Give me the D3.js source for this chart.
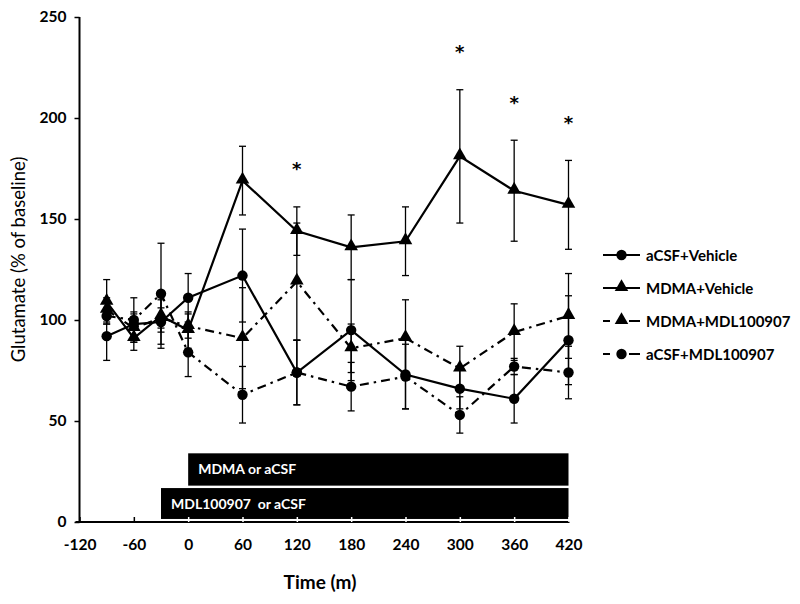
<!DOCTYPE html>
<html><head><meta charset="utf-8">
<script src="https://cdn.jsdelivr.net/npm/d3@7"></script>
<style>body{margin:0;background:#fff}svg{display:block}</style>
</head><body>
<svg id="c" width="800" height="604"></svg>
<script>
const times = [-90,-60,-30,0,60,120,180,240,300,360,420];
const acsfVeh     = [92, 98, 99, 111, 122, 74, 95, 73, 66, 61, 90];
const acsfVehErr  = [12, 6, 13, 12, 23, 16, 25, 17, 10, 12, 22];
const mdmaVeh     = [109, 91, 102, 95, 169, 144, 136, 139, 181, 164, 157];
const mdmaVehErr  = [11, 6, 8, 9, 17, 12, 16, 17, 33, 25, 22];
const mdmaMdl     = [105, 96, 101, 97, 91, 119, 86, 91, 76, 94, 102];
const mdmaMdlErr  = [6, 7, 5, 6, 25, 29, 12, 19, 11, 14, 21];
const acsfMdl     = [102, 100, 113, 84, 63, 74, 67, 72, 53, 77, 74];
const acsfMdlErr  = [4, 11, 25, 12, 14, 16, 12, 16, 9, 4, 13];
const seriesNames = ["aCSF+Vehicle","MDMA+Vehicle","MDMA+MDL100907","aCSF+MDL100907"];
const xTicks = [-120,-60,0,60,120,180,240,300,360,420];
const yTicks = [0,50,100,150,200,250];
const sigTimes = [120,300,360,420];
const treatments = [
  {label:"MDMA or aCSF", start:0, end:420, lo:18, hi:34},
  {label:"MDL100907  or aCSF", start:-30, end:420, lo:1.5, hi:16.8}
];

const svg = d3.select("#c");
const x = d3.scaleLinear().domain([-120,420]).range([79.5,568.5]);
const y = d3.scaleLinear().domain([0,250]).range([522,17]);
const F = "Lato, 'Open Sans', sans-serif";

const series = [
  {name:seriesNames[0], v:acsfVeh, e:acsfVehErr, m:"circle", dash:null},
  {name:seriesNames[1], v:mdmaVeh, e:mdmaVehErr, m:"triangle", dash:null},
  {name:seriesNames[2], v:mdmaMdl, e:mdmaMdlErr, m:"triangle", dash:"9,5,2.5,5"},
  {name:seriesNames[3], v:acsfMdl, e:acsfMdlErr, m:"circle", dash:"9,5,2.5,5"}
];

// treatment bars
treatments.forEach(t=>{
  svg.append("rect").attr("x",x(t.start)).attr("y",y(t.hi))
    .attr("width",x(t.end)-x(t.start)).attr("height",y(t.lo)-y(t.hi)).attr("fill","#000");
  svg.append("text").attr("x",x(t.start)+10).attr("y",(y(t.hi)+y(t.lo))/2+5)
    .attr("fill","#fff").attr("font-family",F).attr("font-weight","bold").attr("font-size",14)
    .attr("xml:space","preserve").style("white-space","pre").text(t.label);
});

// axes
const xAxis = d3.axisBottom(x).tickValues(xTicks).tickSize(-5).tickPadding(17).tickFormat(d=>String(d));
const gx = svg.append("g").attr("transform",`translate(0,${y(0)})`).call(xAxis);
gx.select(".domain").attr("d",`M${x(-120)-4},0H${x(420)+1}`).attr("stroke","#000").attr("stroke-width",2);
gx.selectAll(".tick line").attr("stroke","#fff").attr("stroke-width",1.5);
gx.selectAll(".tick").filter(d=>d<=-60).select("line").attr("stroke","#000");
gx.selectAll("text").attr("font-family",F).attr("font-weight","bold").attr("font-size",15.5).attr("fill","#000");

const yAxis = d3.axisLeft(y).tickValues(yTicks).tickSize(5).tickPadding(8).tickFormat(d=>String(d));
const gy = svg.append("g").attr("transform",`translate(${x(-120)},0)`).call(yAxis);
gy.select(".domain").attr("d",`M0,${y(0)}V${y(250)}`).attr("stroke","#000").attr("stroke-width",2);
gy.selectAll(".tick line").attr("stroke","#000").attr("stroke-width",1.5);
gy.selectAll("text").attr("font-family",F).attr("font-weight","bold").attr("font-size",15.5).attr("fill","#000");

svg.append("text").attr("x",320).attr("y",589).attr("text-anchor","middle")
  .attr("font-family",F).attr("font-weight","bold").attr("font-size",19).text("Time (m)");
svg.append("text").attr("transform",`translate(25,${259.5}) rotate(-90)`).attr("text-anchor","middle")
  .attr("font-family",F).attr("font-size",18.5).text("Glutamate (% of baseline)");

// error bars
series.forEach(s=>{
  const g = svg.append("g").attr("stroke","#000").attr("stroke-width",1.3);
  times.forEach((t,i)=>{
    const cx = x(t), top = y(s.v[i]+s.e[i]), bot = y(s.v[i]-s.e[i]);
    g.append("line").attr("x1",cx).attr("x2",cx).attr("y1",top).attr("y2",bot);
    g.append("line").attr("x1",cx-3.5).attr("x2",cx+3.5).attr("y1",top).attr("y2",top);
    g.append("line").attr("x1",cx-3.5).attr("x2",cx+3.5).attr("y1",bot).attr("y2",bot);
  });
});

// lines
const line = d3.line().x((d,i)=>x(times[i])).y(d=>y(d));
series.forEach(s=>{
  svg.append("path").attr("d",line(s.v)).attr("fill","none").attr("stroke","#000")
    .attr("stroke-width",2.2).attr("stroke-dasharray",s.dash);
});

// markers
const sym = {circle:d3.symbol().type(d3.symbolCircle).size(85), triangle:d3.symbol().type(d3.symbolTriangle).size(80)};
series.forEach(s=>{
  svg.append("g").selectAll("path").data(s.v).join("path")
    .attr("d",sym[s.m]).attr("transform",(d,i)=>`translate(${x(times[i])},${y(d)+(s.m==="triangle"?-1:0)})`)
    .attr("fill","#000");
});

// significance asterisks
sigTimes.forEach(t=>{
  const i = times.indexOf(t);
  svg.append("text").attr("x",x(t)).attr("y",y(mdmaVeh[i]+mdmaVehErr[i]+20.5)+10)
    .attr("text-anchor","middle").attr("font-family","'DejaVu Sans', sans-serif").attr("font-weight","bold")
    .attr("font-size",18).attr("fill","#000").text("*");
});

// legend
const lg = svg.append("g").attr("transform","translate(603,0)");
const rows = [255,288,321,354];
series.forEach((s,i)=>{
  const yy = rows[i];
  if(s.dash){
    lg.append("line").attr("x1",0).attr("x2",7).attr("y1",yy).attr("y2",yy).attr("stroke","#000").attr("stroke-width",2);
    lg.append("line").attr("x1",26).attr("x2",37).attr("y1",yy).attr("y2",yy).attr("stroke","#000").attr("stroke-width",2);
  } else {
    lg.append("line").attr("x1",0).attr("x2",37).attr("y1",yy).attr("y2",yy).attr("stroke","#000").attr("stroke-width",2);
  }
  lg.append("path").attr("d",sym[s.m]).attr("transform",`translate(18.5,${yy+(s.m==="triangle"?-1:0)})`).attr("fill","#000");
  lg.append("text").attr("x",43).attr("y",yy+5.5).attr("font-family",F).attr("font-weight","bold")
    .attr("font-size",15).text(s.name);
});
</script>
</body></html>
